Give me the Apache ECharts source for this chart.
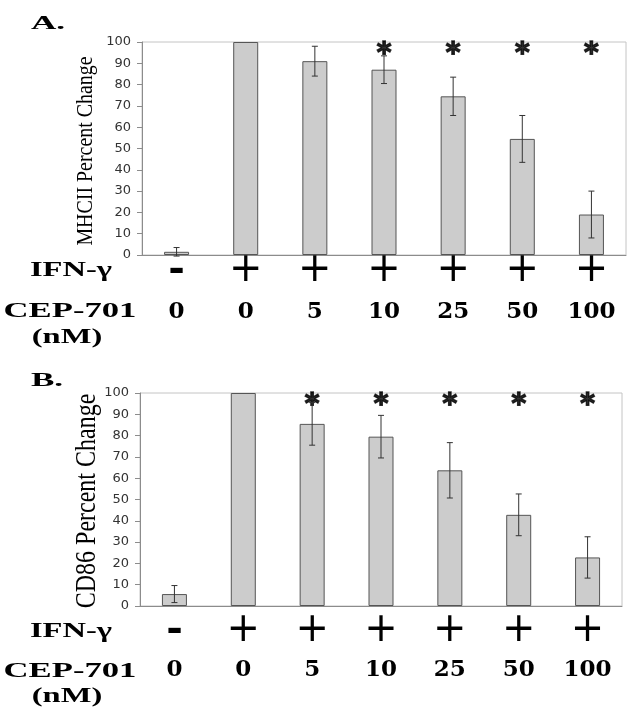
<!DOCTYPE html>
<html>
<head>
<meta charset="utf-8">
<script src="https://cdn.jsdelivr.net/npm/echarts@6/dist/echarts.min.js"></script>
<style>
html,body{margin:0;padding:0;background:#fff;}
#chart{width:639px;height:713px;}
</style>
</head>
<body>
<div id="chart"></div>
<script>
// ---- data ----
const cepDoses = ['0', '0', '5', '10', '25', '50', '100'];       // CEP-701 (nM)
const ifnSigns = ['-', '+', '+', '+', '+', '+', '+'];          // IFN-γ
const mhcValues = [1.5, 100, 91, 87, 74.5, 54.5, 19];
const mhcErrors = [2, 0, 7, 6.5, 9, 11, 11];
const mhcStars  = [false, false, false, true, true, true, true];
const cd86Values = [5.6, 100, 85.5, 79.5, 63.7, 42.8, 22.8];
const cd86Errors = [4, 0, 10, 10, 13, 9.8, 9.7];
const cd86Stars  = [false, false, true, true, true, true, true];
const yMin = 0, yMax = 100, yStep = 10;
const starLevel = 94;

const chart = echarts.init(document.getElementById('chart'));

function errData(vals, errs) {
  const out = [];
  vals.forEach((v, i) => { if (errs[i] > 0) out.push([i, v - errs[i], v + errs[i]]); });
  return out;
}
function starData(flags) {
  const out = [];
  flags.forEach((f, i) => { if (f) out.push([i, starLevel]); });
  return out;
}
function renderErr(params, api) {
  const lo = api.coord([api.value(0), api.value(1)]);
  const hi = api.coord([api.value(0), api.value(2)]);
  const w = 3;
  const st = { stroke: '#333', lineWidth: 1 };
  return {
    type: 'group',
    children: [
      { type: 'line', shape: { x1: lo[0], y1: lo[1], x2: hi[0], y2: hi[1] }, style: st },
      { type: 'line', shape: { x1: lo[0] - w, y1: lo[1], x2: lo[0] + w, y2: lo[1] }, style: st },
      { type: 'line', shape: { x1: hi[0] - w, y1: hi[1], x2: hi[0] + w, y2: hi[1] }, style: st }
    ]
  };
}

const grids = [
  { left: 142, top: 42, width: 484, height: 213 },
  { left: 140, top: 393, width: 482, height: 213 }
];
const signMargins = [2, 11];
const doseMargins = [45, 52];

const xAxes = [], yAxes = [], series = [];
[[mhcValues, mhcErrors, mhcStars], [cd86Values, cd86Errors, cd86Stars]].forEach((set, g) => {
  xAxes.push({
    type: 'category', gridIndex: g, position: 'bottom', data: ifnSigns,
    axisLine: { lineStyle: { color: '#8c8c8c', width: 1 } },
    axisTick: { length: 3, lineStyle: { color: '#8c8c8c' } },
    axisLabel: {
      margin: signMargins[g], interval: 0,
      formatter: v => v === '+' ? '{p|+}' : '{m|-}',
      rich: {
        p: { fontFamily: 'DejaVu Sans', fontSize: 40, lineHeight: 28, color: '#000' },
        m: { fontFamily: 'DejaVu Serif', fontWeight: 'bold', fontSize: 40, lineHeight: 28, color: '#000' }
      }
    }
  });
  xAxes.push({
    type: 'category', gridIndex: g, position: 'bottom', offset: 0, data: cepDoses,
    axisLine: { show: false }, axisTick: { show: false },
    axisLabel: {
      margin: doseMargins[g], interval: 0, color: '#000',
      fontFamily: 'DejaVu Serif', fontWeight: 'bold', fontSize: 23, lineHeight: 24
    }
  });
  yAxes.push({
    type: 'value', gridIndex: g, min: yMin, max: yMax, interval: yStep,
    splitLine: { show: false },
    axisLine: { show: true, lineStyle: { color: '#8c8c8c' } },
    axisTick: { show: true, length: 5, lineStyle: { color: '#8c8c8c' } },
    axisLabel: { margin: 11, color: '#333', fontFamily: 'DejaVu Sans', fontSize: 13 }
  });
  series.push({
    type: 'bar', xAxisIndex: g * 2, yAxisIndex: g, data: set[0], barWidth: 25,
    itemStyle: { color: '#cccccc', borderColor: '#555', borderWidth: 1 },
    silent: true, animation: false
  });
  series.push({
    type: 'custom', xAxisIndex: g * 2, yAxisIndex: g, data: errData(set[0], set[1]),
    renderItem: renderErr, z: 5, animation: false, silent: true
  });
  series.push({
    type: 'scatter', xAxisIndex: g * 2, yAxisIndex: g, data: starData(set[2]),
    symbolSize: 1, itemStyle: { color: 'rgba(0,0,0,0)' }, animation: false, silent: true,
    label: {
      show: true, position: 'inside', formatter: '*', color: '#000',
      fontFamily: 'DejaVu Sans', fontWeight: 'bold', fontSize: 28,
      textBorderColor: '#000', textBorderWidth: 1.5
    }
  });
});

function txt(text, x, y, font, sx, rot) {
  return {
    type: 'text', x: x, y: y, rotation: rot || 0, scaleX: sx || 1, scaleY: 1,
    style: { text: text, font: font, fill: '#000', align: 'center', verticalAlign: 'middle' },
    silent: true
  };
}

const graphics = [
  txt('A.', 48, 24, 'bold 19px "Liberation Serif"', 1.85),
  txt('B.', 47, 381, 'bold 19px "Liberation Serif"', 1.85),
  txt('MHCII Percent Change', 86, 151, '24px "Liberation Serif"', 0.83, Math.PI / 2),
  txt('CD86 Percent Change', 87, 501, '30px "Liberation Serif"', 0.8, Math.PI / 2),
  txt('IFN-γ', 71, 271, 'bold 21px "Liberation Serif"', 1.55),
  txt('CEP-701', 70, 312, 'bold 21px "Liberation Serif"', 1.65),
  txt('(nM)', 67, 338, 'bold 21px "Liberation Serif"', 1.55),
  txt('IFN-γ', 71, 632, 'bold 21px "Liberation Serif"', 1.55),
  txt('CEP-701', 70, 672, 'bold 21px "Liberation Serif"', 1.65),
  txt('(nM)', 67, 697, 'bold 21px "Liberation Serif"', 1.55)
];

chart.setOption({
  animation: false,
  backgroundColor: '#fff',
  grid: grids.map(g => Object.assign({ show: true, borderColor: '#c4c4c4', borderWidth: 1, backgroundColor: 'transparent', containLabel: false, outerBoundsMode: 'none' }, g)),
  xAxis: xAxes,
  yAxis: yAxes,
  series: series,
  graphic: graphics
});
</script>
</body>
</html>
